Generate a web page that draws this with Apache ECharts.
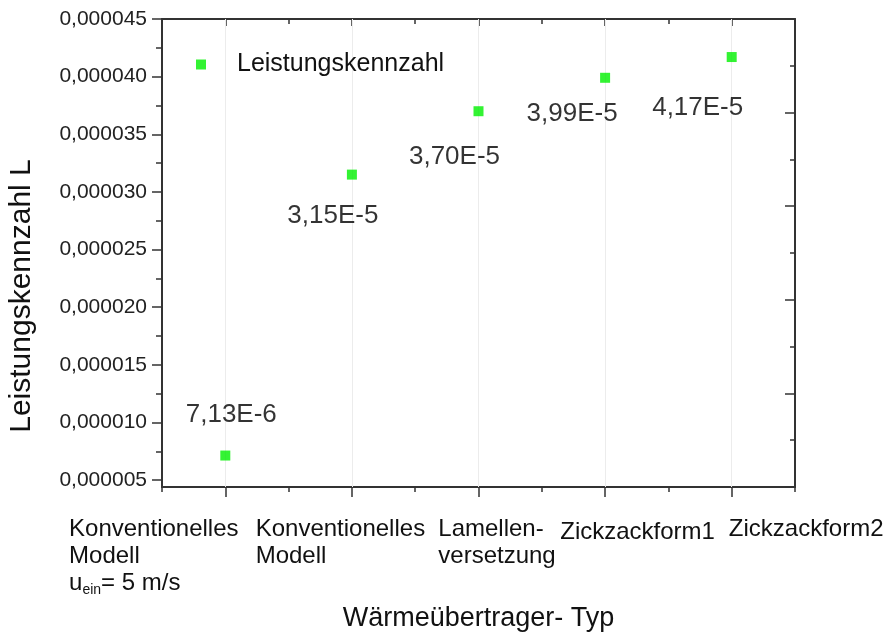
<!DOCTYPE html>
<html>
<head>
<meta charset="utf-8">
<script src="https://cdn.jsdelivr.net/npm/echarts@6/dist/echarts.min.js"></script>
<style>
  html, body { margin: 0; padding: 0; background: #fff; }
  #chart { width: 888px; height: 635px; }
</style>
</head>
<body>
<div id="chart"></div>
<script>
// ---- data ----
const categories = [
  'Konventionelles\nModell\nu{ein}= 5 m/s',
  'Konventionelles\nModell',
  'Lamellen-\nversetzung',
  'Zickzackform1',
  'Zickzackform2'
];
const seriesName = 'Leistungskennzahl';
const values = [0.00000713, 0.0000315, 0.0000370, 0.0000399, 0.0000417];
const yTickVals = [0.000005, 0.000010, 0.000015, 0.000020, 0.000025, 0.000030, 0.000035, 0.000040, 0.000045];
const yMinorVals = [0.0000075, 0.0000125, 0.0000175, 0.0000225, 0.0000275, 0.0000325, 0.0000375, 0.0000425];
const yTitle = 'Leistungskennzahl L';
const xTitle = 'Wärmeübertrager- Typ';

// ---- layout (styles only) ----
const catPad = [[0, 143, 0, 0], [0, 23, 0, 0], [0, 0, 0, 37], [3, 0, 0, 65], [0, 0, 0, 149]];
const labelOffsets = [[6, -41], [-19, 41], [-24, 46], [-33, 36], [-34, 51]];

const FONT = "'Liberation Sans', Arial, sans-serif";
const AX = '#333';

function fmtCat(v) {
  return v.split('\n').map(function (line) {
    return '{n|' + line.replace(/\{(\w+)\}/, '}{s|$1}{n|') + '}';
  }).join('\n');
}
function fmtSci(v) {
  return v.toExponential(2).replace('.', ',').replace('e', 'E').replace('+', '');
}

const chart = echarts.init(document.getElementById('chart'));

const tickLine = { color: AX, width: 1.5 };

const option = {
  animation: false,
  backgroundColor: '#fff',
  grid: { left: 162, right: 93, top: 19, bottom: 148, containLabel: false, outerBoundsMode: 'none' },
  legend: {
    data: [seriesName],
    left: 191,
    top: 47,
    icon: 'rect',
    itemWidth: 10,
    itemHeight: 10,
    textStyle: { fontFamily: FONT, fontSize: 25, color: '#111', padding: [0, 0, 0, 26] }
  },
  xAxis: [
    {
      type: 'category',
      position: 'bottom',
      data: categories.map(function (c, i) {
        return { value: c, textStyle: { padding: catPad[i] } };
      }),
      boundaryGap: true,
      axisLine: { show: true, onZero: false, lineStyle: { color: AX, width: 2 } },
      axisTick: { show: true, alignWithLabel: true, interval: 0, length: 10, lineStyle: tickLine },
      axisLabel: {
        show: true,
        interval: 0,
        margin: 29,
        formatter: fmtCat,
        rich: {
          n: { fontFamily: FONT, fontSize: 24, color: '#111', lineHeight: 27, align: 'left' },
          s: { fontFamily: FONT, fontSize: 14, color: '#111', lineHeight: 12, align: 'left', verticalAlign: 'bottom' }
        }
      },
      splitLine: { show: false },
      name: xTitle,
      nameLocation: 'middle',
      nameGap: 118,
      nameTextStyle: { fontFamily: FONT, fontSize: 27, color: '#111' }
    },
    {
      type: 'category',
      position: 'bottom',
      data: categories,
      boundaryGap: true,
      axisLine: { show: false, onZero: false },
      axisTick: { show: true, alignWithLabel: false, interval: 0, length: 5, lineStyle: tickLine },
      axisLabel: { show: false },
      splitLine: { show: false }
    },
    {
      type: 'category',
      position: 'top',
      data: categories,
      boundaryGap: true,
      axisLine: { show: true, onZero: false, lineStyle: { color: AX, width: 2 } },
      axisTick: { show: true, inside: true, alignWithLabel: true, interval: 0, length: 7, lineStyle: tickLine },
      axisLabel: { show: false },
      splitLine: { show: false }
    },
    {
      type: 'category',
      position: 'top',
      data: categories,
      boundaryGap: true,
      axisLine: { show: false, onZero: false },
      axisTick: { show: true, inside: true, alignWithLabel: false, interval: 0, length: 5, lineStyle: tickLine },
      axisLabel: { show: false },
      splitLine: { show: false }
    }
  ],
  yAxis: [
    {
      type: 'value',
      position: 'left',
      min: 0.0000044,
      max: 0.000045,
      axisLine: { show: true, onZero: false, lineStyle: { color: AX, width: 2 } },
      axisTick: { show: true, customValues: yTickVals, length: 10, lineStyle: tickLine },
      axisLabel: {
        show: true,
        customValues: yTickVals,
        margin: 15,
        fontFamily: FONT,
        fontSize: 21,
        color: '#222',
        formatter: function (v) { return v.toFixed(6).replace('.', ','); }
      },
      splitLine: { show: false },
      name: yTitle,
      nameLocation: 'middle',
      nameRotate: 90,
      nameGap: 125,
      nameTextStyle: { fontFamily: FONT, fontSize: 30, color: '#111', padding: [0, 86, 0, 0] }
    },
    {
      type: 'value',
      position: 'left',
      min: 0.0000044,
      max: 0.000045,
      axisLine: { show: false, onZero: false },
      axisTick: { show: true, customValues: yMinorVals, length: 6, lineStyle: tickLine },
      axisLabel: { show: false },
      splitLine: { show: false }
    },
    {
      type: 'value',
      position: 'right',
      min: 0,
      max: 5,
      interval: 1,
      axisLine: { show: true, onZero: false, lineStyle: { color: AX, width: 2 } },
      axisTick: { show: true, inside: true, length: 10, lineStyle: tickLine },
      minorTick: { show: true, splitNumber: 2, length: 5, lineStyle: tickLine },
      axisLabel: { show: false },
      splitLine: { show: false }
    }
  ],
  series: [
    {
      name: seriesName,
      type: 'scatter',
      xAxisIndex: 0,
      yAxisIndex: 0,
      symbol: 'rect',
      symbolSize: 10,
      itemStyle: { color: '#00f000' },
      data: values.map(function (v, i) {
        return {
          value: [i, v],
          label: { offset: labelOffsets[i] }
        };
      }),
      label: {
        show: true,
        position: 'inside',
        align: 'center',
        verticalAlign: 'middle',
        fontFamily: FONT,
        fontSize: 26,
        color: '#000',
        formatter: function (p) { return fmtSci(p.value[1]); }
      },
      markLine: {
        silent: true,
        z: 1,
        symbol: 'none',
        label: { show: false },
        lineStyle: { color: '#ececec', type: 'solid', width: 1 },
        data: categories.map(function (c, i) { return { xAxis: i }; })
      },
      z: 3
    }
  ]
};

chart.setOption(option);
</script>
</body>
</html>
